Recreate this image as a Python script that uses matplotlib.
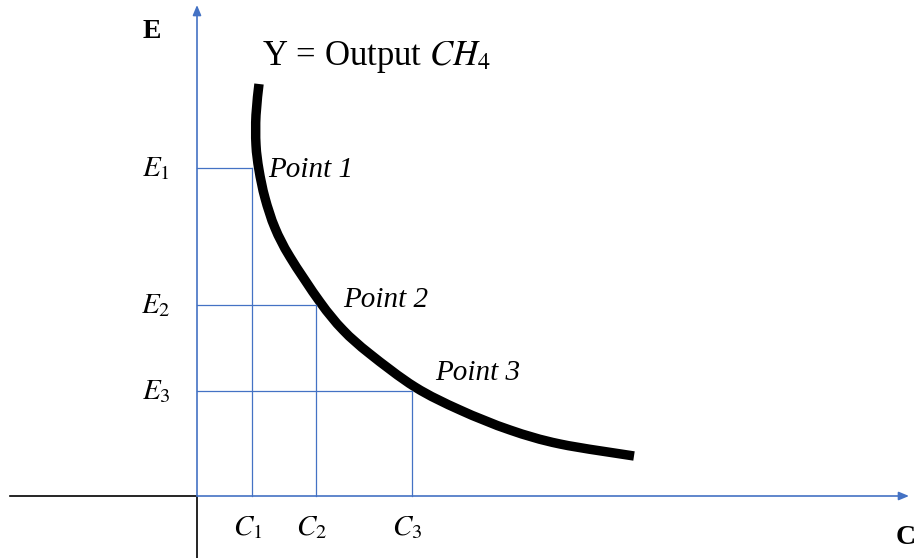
import matplotlib
matplotlib.use("Agg")
import matplotlib.pyplot as plt
from matplotlib.path import Path
from matplotlib.patches import PathPatch

plt.rcParams['font.family'] = ['Liberation Serif', 'DejaVu Serif']
plt.rcParams['mathtext.fontset'] = 'stix'

# Isoquant curve (C on horizontal axis, E on vertical axis)
curve_c = [6.2, 5.9, 5.9, 6.2, 6.8, 7.8, 9.3, 12.3, 14.6, 17.3, 21.8, 26.3, 31.3, 36.3, 43.7]
curve_e = [41.2, 38.1, 35.1, 32.6, 29.8, 26.8, 23.9, 19.4, 16.6, 14.2, 10.9, 8.6, 6.6, 5.2, 4.0]

# Marked points
point_c = [5.5, 11.9, 21.5]
point_e = [32.8, 19.1, 10.5]
c_labels = ['$C_1$', '$C_2$', '$C_3$']
e_labels = ['$E_1$', '$E_2$', '$E_3$']
point_labels = ['Point 1', 'Point 2', 'Point 3']

BLUE = '#4472C4'

fig = plt.figure(figsize=(9.18, 5.58), dpi=100)
ax = fig.add_axes([0, 0, 1, 1])
ax.set_xlim(-19.7, 72.1)
ax.set_ylim(-6.2, 49.6)
ax.axis('off')

# Axes lines
ax.plot([-18.7, 0], [0, 0], color='black', lw=1.2)
ax.plot([0, 0], [-6.2, 0], color='black', lw=1.2)
ax.annotate('', xy=(71.2, 0), xytext=(0, 0),
            arrowprops=dict(arrowstyle='-|>,head_length=0.6,head_width=0.25', color=BLUE, lw=1.2,
                            shrinkA=0, shrinkB=0))
ax.annotate('', xy=(0, 49.1), xytext=(0, 0),
            arrowprops=dict(arrowstyle='-|>,head_length=0.6,head_width=0.25', color=BLUE, lw=1.2,
                            shrinkA=0, shrinkB=0))

# Guide lines
for c, e in zip(point_c, point_e):
    ax.plot([0, c], [e, e], color=BLUE, lw=0.9)
    ax.plot([c, c], [0, e], color=BLUE, lw=0.9)

# Curve drawn as a smooth Bezier path through the read points (Catmull-Rom style)
pts = list(zip(curve_c, curve_e))
verts = [pts[0]]
codes = [Path.MOVETO]
n = len(pts)
for i in range(n - 1):
    p0 = pts[i - 1] if i > 0 else pts[i]
    p1 = pts[i]
    p2 = pts[i + 1]
    p3 = pts[i + 2] if i + 2 < n else pts[i + 1]
    c1 = (p1[0] + (p2[0] - p0[0]) / 6, p1[1] + (p2[1] - p0[1]) / 6)
    c2 = (p2[0] - (p3[0] - p1[0]) / 6, p2[1] - (p3[1] - p1[1]) / 6)
    verts += [c1, c2, p2]
    codes += [Path.CURVE4, Path.CURVE4, Path.CURVE4]
ax.add_patch(PathPatch(Path(verts, codes), facecolor='none', edgecolor='black',
                       lw=6.8, capstyle='butt', joinstyle='round'))

# Labels
for c, lab in zip(point_c, c_labels):
    ax.text(c - 0.45, -3.2, lab, fontsize=21, ha='center', va='center')
for e, lab in zip(point_e, e_labels):
    ax.text(-4.1, e - 0.1, lab, fontsize=21, ha='center', va='center')

label_pos = [(7.1, 31.9), (14.6, 18.9), (23.8, 11.6)]
for (x, y), lab in zip(label_pos, point_labels):
    ax.text(x, y, lab, fontsize=21, style='italic', ha='left', va='baseline')

ax.text(6.5, 43.1, 'Y = Output $CH_4$', fontsize=25, ha='left', va='baseline')
ax.text(-4.5, 46.4, 'E', fontsize=20, fontweight='bold', ha='center', va='center')
ax.text(70.9, -4.2, 'C', fontsize=20, fontweight='bold', ha='center', va='center')

fig.savefig('out.png', dpi=100)
